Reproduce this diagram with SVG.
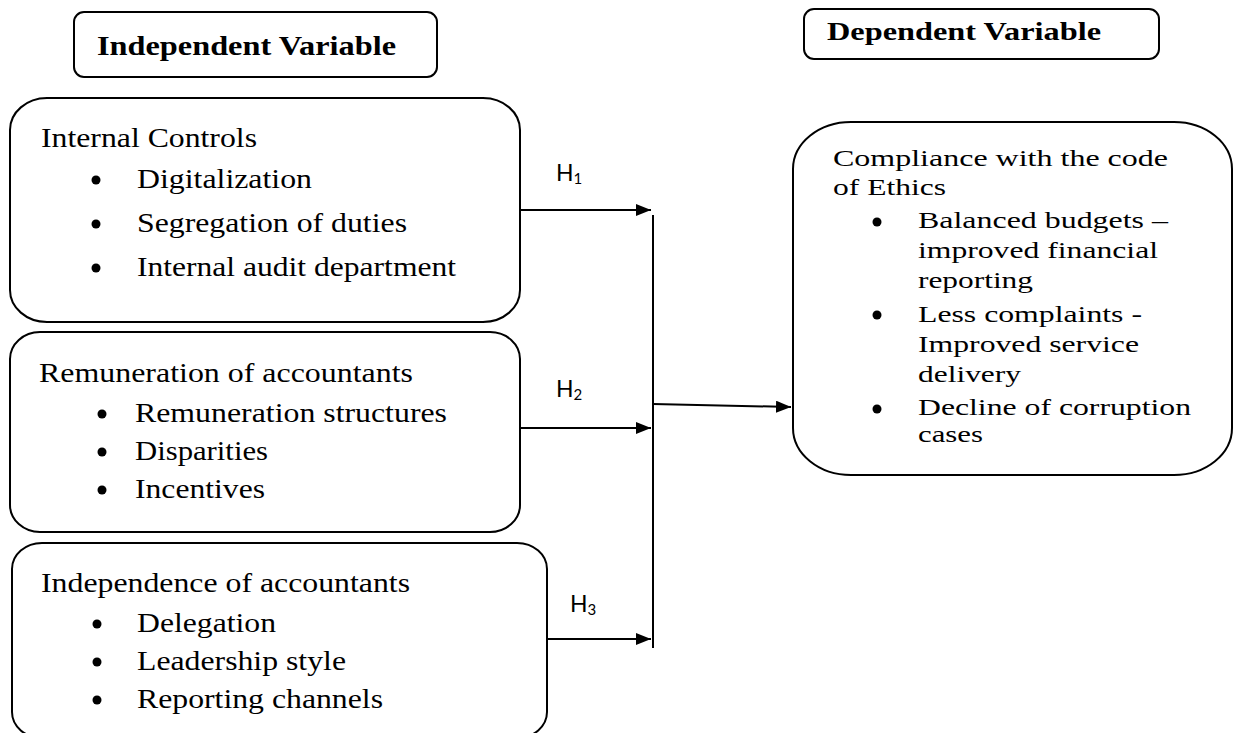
<svg xmlns="http://www.w3.org/2000/svg" width="1234" height="733" viewBox="0 0 1234 733">
<style>
.box{fill:#fff;stroke:#000;stroke-width:2}
.t{font-family:"Liberation Serif","Times New Roman",serif;font-size:28px;fill:#000}
.tr{font-family:"Liberation Serif","Times New Roman",serif;font-size:24px;fill:#000}
.hb{font-family:"Liberation Serif","Times New Roman",serif;font-weight:bold;fill:#000}
.h{font-family:Lato,"Open Sans",sans-serif;font-size:23px;fill:#000}
.hs{font-size:15px}
.ln{stroke:#000;stroke-width:2;fill:none}
.b{fill:#000}
</style>
<defs>
<marker id="arr" markerUnits="userSpaceOnUse" markerWidth="15" markerHeight="12" refX="15" refY="6" orient="auto">
<path d="M0,0 L15,6 L0,12 z" fill="#000"/>
</marker>
</defs>

<g id="independent-header">
<rect class="box" x="74" y="12" width="363" height="65" rx="10"/>
<text class="hb" x="97" y="55" font-size="28" textLength="299" lengthAdjust="spacingAndGlyphs">Independent Variable</text>
</g>

<g id="dependent-header">
<rect class="box" x="804" y="9" width="355" height="50" rx="10"/>
<text class="hb" x="827" y="40" font-size="25" textLength="274" lengthAdjust="spacingAndGlyphs">Dependent Variable</text>
</g>

<g id="internal-controls">
<rect class="box" x="10" y="98" width="510" height="224" rx="37" ry="32"/>
<text class="t" x="41" y="147" textLength="216" lengthAdjust="spacingAndGlyphs">Internal Controls</text>
<circle class="b" cx="96" cy="180" r="4.5"/>
<text class="t" x="137" y="188" textLength="175" lengthAdjust="spacingAndGlyphs">Digitalization</text>
<circle class="b" cx="96" cy="224" r="4.5"/>
<text class="t" x="137" y="232" textLength="270" lengthAdjust="spacingAndGlyphs">Segregation of duties</text>
<circle class="b" cx="96" cy="268" r="4.5"/>
<text class="t" x="137" y="276" textLength="319" lengthAdjust="spacingAndGlyphs">Internal audit department</text>
</g>

<g id="remuneration">
<rect class="box" x="10" y="332" width="510" height="200" rx="30" ry="27"/>
<text class="t" x="39" y="382" textLength="374" lengthAdjust="spacingAndGlyphs">Remuneration of accountants</text>
<circle class="b" cx="102" cy="414" r="4.5"/>
<text class="t" x="135" y="422" textLength="312" lengthAdjust="spacingAndGlyphs">Remuneration structures</text>
<circle class="b" cx="102" cy="452" r="4.5"/>
<text class="t" x="135" y="460" textLength="133" lengthAdjust="spacingAndGlyphs">Disparities</text>
<circle class="b" cx="102" cy="490" r="4.5"/>
<text class="t" x="135" y="498" textLength="130" lengthAdjust="spacingAndGlyphs">Incentives</text>
</g>

<g id="independence">
<rect class="box" x="12" y="543" width="535" height="195" rx="30" ry="26"/>
<text class="t" x="41" y="592" textLength="369" lengthAdjust="spacingAndGlyphs">Independence of accountants</text>
<circle class="b" cx="97" cy="624" r="4.5"/>
<text class="t" x="137" y="632" textLength="139" lengthAdjust="spacingAndGlyphs">Delegation</text>
<circle class="b" cx="97" cy="662" r="4.5"/>
<text class="t" x="137" y="670" textLength="209" lengthAdjust="spacingAndGlyphs">Leadership style</text>
<circle class="b" cx="97" cy="700" r="4.5"/>
<text class="t" x="137" y="708" textLength="246" lengthAdjust="spacingAndGlyphs">Reporting channels</text>
</g>

<g id="compliance">
<rect class="box" x="793" y="122" width="439" height="353" rx="58" ry="47"/>
<text class="tr" x="833" y="166" textLength="335" lengthAdjust="spacingAndGlyphs">Compliance with the code</text>
<text class="tr" x="833" y="195" textLength="113" lengthAdjust="spacingAndGlyphs">of Ethics</text>
<circle class="b" cx="877" cy="222" r="4.5"/>
<text class="tr" x="918" y="228" textLength="250" lengthAdjust="spacingAndGlyphs">Balanced budgets –</text>
<text class="tr" x="918" y="258" textLength="240" lengthAdjust="spacingAndGlyphs">improved financial</text>
<text class="tr" x="918" y="288" textLength="115" lengthAdjust="spacingAndGlyphs">reporting</text>
<circle class="b" cx="877" cy="315" r="4.5"/>
<text class="tr" x="918" y="322" textLength="224" lengthAdjust="spacingAndGlyphs">Less complaints -</text>
<text class="tr" x="918" y="352" textLength="221" lengthAdjust="spacingAndGlyphs">Improved service</text>
<text class="tr" x="918" y="382" textLength="103" lengthAdjust="spacingAndGlyphs">delivery</text>
<circle class="b" cx="877" cy="409" r="4.5"/>
<text class="tr" x="918" y="415" textLength="273" lengthAdjust="spacingAndGlyphs">Decline of corruption</text>
<text class="tr" x="918" y="442" textLength="65" lengthAdjust="spacingAndGlyphs">cases</text>
</g>

<g id="connectors">
<path class="ln" d="M520,210 L651,210" marker-end="url(#arr)"/>
<path class="ln" d="M520,428 L651,428" marker-end="url(#arr)"/>
<path class="ln" d="M547,639 L651,639" marker-end="url(#arr)"/>
<path class="ln" d="M653,215 L653,648"/>
<path class="ln" d="M653,404 L791,407" marker-end="url(#arr)"/>
<text class="h" x="556" y="181">H<tspan class="hs" dy="3">1</tspan></text>
<text class="h" x="556" y="397">H<tspan class="hs" dy="3">2</tspan></text>
<text class="h" x="570" y="612">H<tspan class="hs" dy="3">3</tspan></text>
</g>
</svg>
